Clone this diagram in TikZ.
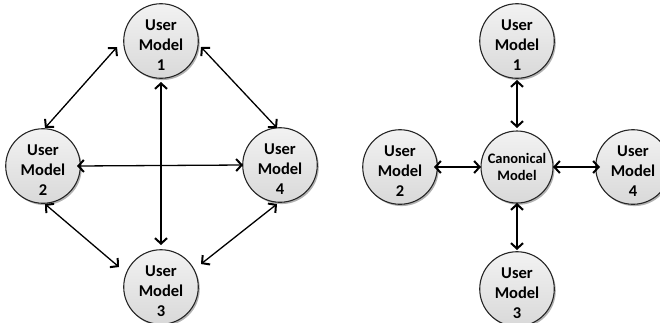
\documentclass[tikz,border=0pt]{standalone}
\usepackage{fontspec}
\setmainfont{Carlito}
\usetikzlibrary{arrows.meta,calc,shadows}
\newcommand{\umtext}[1]{\raisebox{-5pt}[\height][\depth]{\begin{tabular}{@{}c@{}}#1\end{tabular}}}
\begin{document}
\begin{tikzpicture}[x=1pt,y=-1pt,
  um/.style={circle,draw=black!85,line width=1.1pt,minimum size=72pt,inner sep=0pt,
    top color=gray!10,bottom color=gray!30,
    drop shadow={shadow xshift=1.5pt,shadow yshift=-1.8pt,opacity=0.3,fill=black},
    font=\fontsize{16.5}{20}\selectfont\bfseries},
  can/.style={um,align=center,font=\fontsize{14.5}{17.5}\selectfont\bfseries},
  arr/.style={line width=1.3pt,{Straight Barb[length=5.5pt,width=12pt,line width=2pt]}-{Straight Barb[length=5.5pt,width=12pt,line width=2pt]}}]
\useasboundingbox (0,0) rectangle (660,322);
% left diagram
\node[um] (a1) at (161,41) {\umtext{User\\Model\\1}};
\node[um] (a2) at (43,166) {\umtext{User\\Model\\2}};
\node[um] (a4) at (280,165) {\umtext{User\\Model\\4}};
\node[um] (a3) at (161,287) {\umtext{User\\Model\\3}};
\draw[arr] ($(a1)+(-44,6)$) -- ($(a2)+(2,-38)$);
\draw[arr] ($(a1)+(40,6)$) -- ($(a4)+(-3,-37)$);
\draw[arr] ($(a2)+(2,38)$) -- ($(a3)+(-42,-20)$);
\draw[arr] ($(a4)+(-3,39)$) -- ($(a3)+(40,-23)$);
\draw[arr] ($(a1)+(0,41)$) -- ($(a3)+(0,-42)$);
\draw[arr] ($(a2)+(34,0)$) -- ($(a4)+(-37,0)$);
% right diagram
\node[um] (b1) at (517,41) {\umtext{User\\Model\\1}};
\node[can] (c) at (517,167) {Canonical\\Model};
\node[um] (b2) at (400,167) {\umtext{User\\Model\\2}};
\node[um] (b4) at (633,167) {\umtext{User\\Model\\4}};
\node[um] (b3) at (517,289) {\umtext{User\\Model\\3}};
\draw[arr] ($(b1)+(0,39)$) -- ($(c)+(0,-39)$);
\draw[arr] ($(c)+(0,36)$) -- ($(b3)+(0,-39)$);
\draw[arr] ($(b2)+(34,0)$) -- ($(c)+(-36,0)$);
\draw[arr] ($(c)+(36,0)$) -- ($(b4)+(-33,0)$);
\end{tikzpicture}
\end{document}
